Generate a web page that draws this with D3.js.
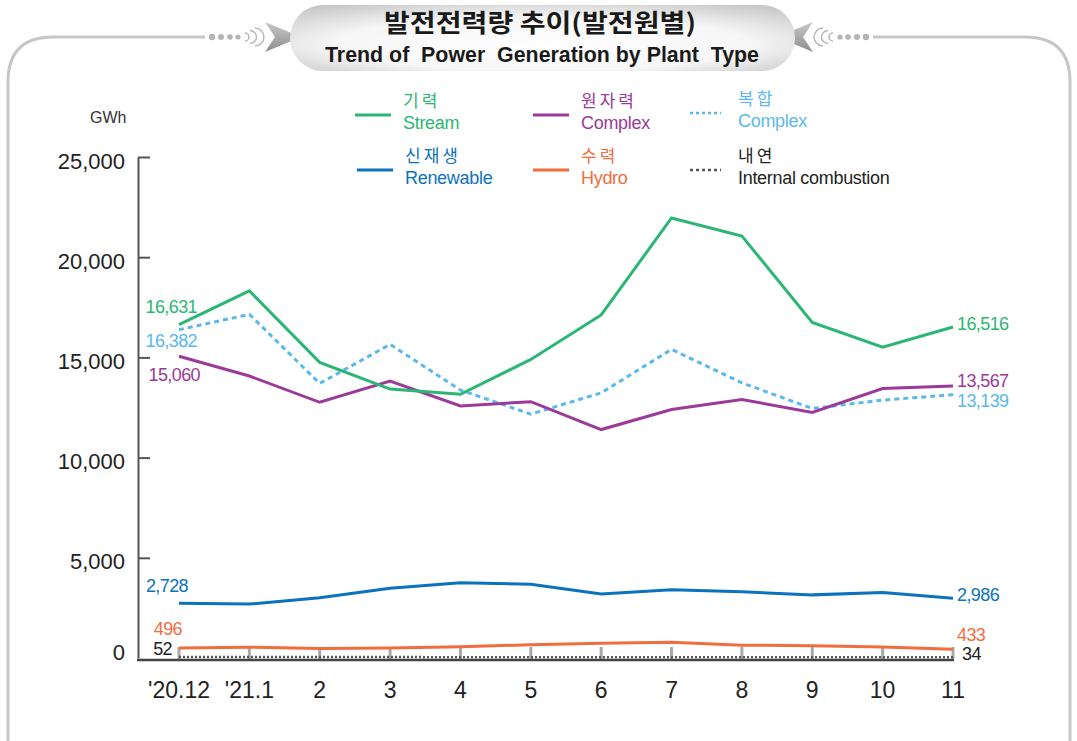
<!DOCTYPE html>
<html>
<head>
<meta charset="utf-8">
<script src="https://cdn.jsdelivr.net/npm/d3@7"></script>
<style>
  html, body { margin: 0; padding: 0; background: #fff; }
  svg { display: block; font-family: "Liberation Sans", Arial, sans-serif; }
  .ko { font-family: "Noto Sans CJK KR", "Liberation Sans", sans-serif; }
</style>
</head>
<body>
<svg id="chart" width="1077" height="741"></svg>
<script>
/* ===== Data (GWh) ===== */
const MONTHS    = ["'20.12", "'21.1", "2", "3", "4", "5", "6", "7", "8", "9", "10", "11"];
const STREAM    = [16631, 18320, 14750, 13420, 13160, 14900, 17120, 21960, 21060, 16740, 15510, 16516];
const NUCLEAR   = [15060, 14070, 12760, 13820, 12580, 12790, 11400, 12400, 12900, 12250, 13450, 13567];
const COMBINED  = [16382, 17150, 13700, 15650, 13370, 12170, 13230, 15400, 13730, 12450, 12870, 13139];
const RENEWABLE = [2728, 2690, 3010, 3480, 3760, 3680, 3190, 3400, 3300, 3150, 3270, 2986];
const HYDRO     = [496, 540, 480, 500, 560, 660, 740, 790, 640, 610, 550, 433];
const INTERNAL  = [52, 50, 47, 45, 42, 40, 38, 37, 37, 36, 35, 34];
const Y_TICKS   = [0, 5000, 10000, 15000, 20000, 25000];

const SERIES = [
  { ko: '기력',   en: 'Stream',              values: STREAM,    color: '#2bb673', dash: null,  w: 3,
    leg: [355, 115], start: [197, -18], end: [957, -3] },
  { ko: '원자력', en: 'Complex',             values: NUCLEAR,   color: '#9b3a98', dash: null,  w: 3,
    leg: [533, 115], start: [200, 18],  end: [957, -6] },
  { ko: '복합',   en: 'Complex',             values: COMBINED,  color: '#5ab9ea', dash: '5,4', w: 3,
    leg: [690, 113], start: [197, 11],  end: [957, 6] },
  { ko: '신재생', en: 'Renewable',           values: RENEWABLE, color: '#0b72bd', dash: null,  w: 3,
    leg: [357, 170], start: [188, -18], end: [957, -4] },
  { ko: '수력',   en: 'Hydro',               values: HYDRO,     color: '#f26d3d', dash: null,  w: 3,
    leg: [533, 170], start: [182, -20], end: [957, -15] },
  { ko: '내연',   en: 'Internal combustion', values: INTERNAL,  color: '#555555', dash: '2,2', w: 2.5,
    leg: [690, 170], start: [172, -8],  end: [962, -4], labelColor: '#222' },
];

const svg = d3.select('#chart');
const defs = svg.append('defs');

/* ===== Frame and title ===== */
svg.append('path')
  .attr('d', 'M8,800 L8,82 Q8,37 53,37 L1025,37 Q1070,37 1070,82 L1070,800')
  .attr('fill', 'none').attr('stroke', '#c6c6c6').attr('stroke-width', 3);

const pillGrad = defs.append('radialGradient').attr('id', 'pill')
  .attr('cx', '50%').attr('cy', '55%').attr('r', '75%').attr('fx', '50%').attr('fy', '65%');
pillGrad.append('stop').attr('offset', '0%').attr('stop-color', '#ffffff');
pillGrad.append('stop').attr('offset', '55%').attr('stop-color', '#f6f6f6');
pillGrad.append('stop').attr('offset', '100%').attr('stop-color', '#bdbdbd');

const arrowGrad = defs.append('linearGradient').attr('id', 'arrow')
  .attr('x1', 0).attr('y1', 0).attr('x2', 0).attr('y2', 1);
arrowGrad.append('stop').attr('offset', '0%').attr('stop-color', '#c8c8c8');
arrowGrad.append('stop').attr('offset', '100%').attr('stop-color', '#8e8e8e');

// white cut in the frame behind the title ornaments
svg.append('rect').attr('x', 205).attr('y', 30).attr('width', 668).attr('height', 14).attr('fill', '#fff');

// ornaments: dots, waves, arrowheads (mirrored on the right)
[{ dir: 1, x0: 208 }, { dir: -1, x0: 870 }].forEach(o => {
  const g = svg.append('g');
  [4, 13, 22, 30].forEach((dx, i) => {
    g.append('circle').attr('cx', o.x0 + o.dir * dx).attr('cy', 37).attr('r', 3.2 - i * 0.2).attr('fill', '#b5b5b5');
  });
  [37, 42, 47].forEach((dx, i) => {
    const cx = o.x0 + o.dir * dx;
    const r = 4 + i * 2.5;
    g.append('path')
      .attr('d', `M${cx},${37 - r} A${r},${r} 0 0 ${o.dir > 0 ? 1 : 0} ${cx},${37 + r}`)
      .attr('fill', 'none').attr('stroke', '#b5b5b5').attr('stroke-width', 1.4);
  });
  const ax = o.x0 + o.dir * 57;
  g.append('path')
    .attr('d', `M${ax},${22} L${ax + o.dir * 36},37 L${ax},${52} L${ax + o.dir * 10},37 Z`)
    .attr('fill', 'url(#arrow)');
});

svg.append('rect')
  .attr('x', 290).attr('y', 5).attr('width', 505).attr('height', 66).attr('rx', 33)
  .attr('fill', 'url(#pill)');

svg.append('text').attr('class', 'ko')
  .attr('x', 540).attr('y', 32).attr('text-anchor', 'middle')
  .attr('textLength', 312).attr('lengthAdjust', 'spacingAndGlyphs')
  .style('font-size', '25px').style('font-weight', 700).style('fill', '#1a1a1a')
  .text('발전전력량 추이(발전원별)');

svg.append('text')
  .attr('x', 542).attr('y', 62).attr('text-anchor', 'middle')
  .attr('textLength', 434).attr('lengthAdjust', 'spacingAndGlyphs')
  .style('white-space', 'pre')
  .style('font-family', '"Liberation Sans Narrow", "Liberation Sans", Arial, sans-serif')
  .style('font-size', '22px').style('font-weight', 700).style('fill', '#1a1a1a')
  .text('Trend of  Power  Generation by Plant  Type');

/* ===== Scales and axes ===== */
const x = d3.scalePoint().domain(MONTHS).range([179, 953]);
const y = d3.scaleLinear().domain([0, 25000]).range([658, 157]);

svg.append('text')
  .attr('x', 90).attr('y', 123)
  .style('font-size', '16px').style('fill', '#333')
  .text('GWh');

const yAxis = svg.append('g')
  .attr('transform', 'translate(138,0)')
  .call(d3.axisLeft(y).tickValues(Y_TICKS).tickSize(-12).tickSizeOuter(0).tickPadding(13)
    .tickFormat(d3.format(',')));
yAxis.select('.domain').attr('stroke', '#555').attr('stroke-width', 2);
yAxis.selectAll('.tick line').attr('stroke', '#555').attr('stroke-width', 2);
yAxis.selectAll('.tick text')
  .style('font-size', '22px').style('fill', '#222')
  .attr('dy', d => d === 0 ? '0.05em' : '0.5em');
yAxis.selectAll('.tick').filter(d => d === 0).select('line').remove();

// category ticks and baseline
svg.append('g').selectAll('line').data(MONTHS).join('line')
  .attr('x1', d => x(d)).attr('x2', d => x(d))
  .attr('y1', 647).attr('y2', 659)
  .attr('stroke', '#a9a9a9').attr('stroke-width', 3);

svg.append('line')
  .attr('x1', 137).attr('x2', x(MONTHS[MONTHS.length - 1]) + 1)
  .attr('y1', 660).attr('y2', 660)
  .attr('stroke', '#444').attr('stroke-width', 2.5);

svg.append('g').selectAll('text').data(MONTHS).join('text')
  .attr('x', d => x(d)).attr('y', 698)
  .attr('text-anchor', 'middle')
  .style('font-size', '23px').style('fill', '#222')
  .text(d => d);

/* ===== Lines ===== */
const line = d3.line()
  .x((d, i) => x(MONTHS[i]))
  .y(d => y(d));

SERIES.slice().reverse().forEach(s => {
  svg.append('path')
    .datum(s.values)
    .attr('d', line)
    .attr('fill', 'none')
    .attr('stroke', s.color)
    .attr('stroke-width', s.w)
    .attr('stroke-dasharray', s.dash)
    .attr('stroke-linejoin', 'miter');
});

/* ===== First / last value labels ===== */
const fmt = d3.format(',');
SERIES.forEach(s => {
  const first = s.values[0];
  const last = s.values[s.values.length - 1];
  svg.append('text')
    .attr('x', s.start[0]).attr('y', y(first) + s.start[1])
    .attr('dy', '0.36em').attr('text-anchor', 'end')
    .style('font-size', '18px').style('letter-spacing', '-0.6px')
    .style('fill', s.labelColor || s.color)
    .text(fmt(first));
  svg.append('text')
    .attr('x', s.end[0]).attr('y', y(last) + s.end[1])
    .attr('dy', '0.36em')
    .style('font-size', '18px').style('letter-spacing', '-0.6px')
    .style('fill', s.labelColor || s.color)
    .text(fmt(last));
});

/* ===== Legend ===== */
SERIES.forEach(s => {
  const [lx, ly] = s.leg;
  const g = svg.append('g').attr('transform', `translate(${lx},${ly})`);
  g.append('line')
    .attr('x1', 0).attr('x2', s.dash ? 31 : 36).attr('y1', 0).attr('y2', 0)
    .attr('stroke', s.color).attr('stroke-width', s.dash ? 2.5 : 3)
    .attr('stroke-dasharray', s.dash ? '3,3' : null);
  g.append('text').attr('class', 'ko')
    .attr('x', 48).attr('y', -8)
    .style('font-size', '17px').style('letter-spacing', '3px')
    .style('fill', s.labelColor || s.color)
    .text(s.ko);
  g.append('text')
    .attr('x', 48).attr('y', 14)
    .style('font-size', '18px').style('letter-spacing', '-0.3px')
    .style('fill', s.labelColor || s.color)
    .text(s.en);
});
</script>
</body>
</html>
